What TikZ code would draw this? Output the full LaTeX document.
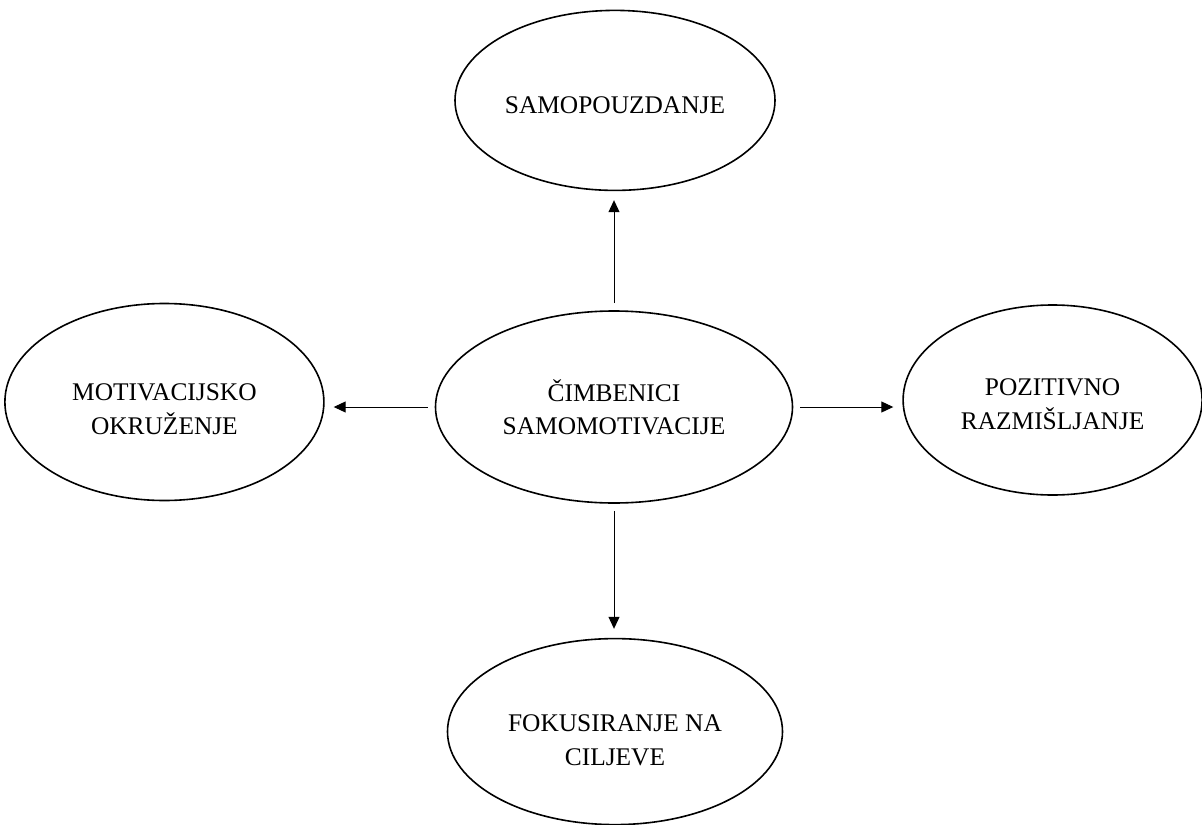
\documentclass[tikz,border=0pt]{standalone}
\usepackage{fontspec}
\setmainfont{Liberation Serif}
\usetikzlibrary{arrows.meta,positioning,shapes.geometric}
\tikzset{factor/.style={
    % The shape:
    ellipse,
    % The size:
    inner sep=0pt,
    % The border:
    line width=1.6bp,
    draw=black,
    % Font
    font=\fontsize{25.5}{33.5}\selectfont,
    align=center,
    },
    link/.style={
    line width=1bp,
    -{Triangle[length=12bp,width=11bp]},
    shorten <=7bp,
    shorten >=9bp,
    },
}

\begin{document}
\begin{tikzpicture}[x=1bp,y=-1bp,node distance = 110bp and 110bp]
    \useasboundingbox (0,0) rectangle (1202,825);
    \node (centre) [factor,minimum width=357bp,minimum height=192bp] at (614,407) {ČIMBENICI\\SAMOMOTIVACIJE};
    \node (self)   [factor,minimum width=320bp,minimum height=180bp,above=119bp of centre,xshift=1bp] {\rule{0pt}{26bp}SAMOPOUZDANJE};
    \node (env)    [factor,minimum width=319bp,minimum height=197bp,left=110bp of centre,yshift=5bp] {\rule{0pt}{31bp}MOTIVACIJSKO\\OKRUŽENJE};
    \node (think)  [factor,minimum width=299bp,minimum height=190bp,right=109bp of centre,yshift=7bp] {\rule{0pt}{25bp}POZITIVNO\\RAZMIŠLJANJE};
    \node (goals)  [factor,minimum width=335bp,minimum height=186bp,below=134bp of centre,xshift=1bp] {\rule{0pt}{34bp}FOKUSIRANJE NA\\CILJEVE};

    % arrows go out from the middle
    \draw[link] (centre.north) -- (centre.north |- self.south);
    \draw[link] (centre.west) -- (centre.west -| env.east);
    \draw[link] (centre.east) -- (centre.east -| think.west);
    \draw[link] (centre.south) -- (centre.south |- goals.north);
\end{tikzpicture}
\end{document}
